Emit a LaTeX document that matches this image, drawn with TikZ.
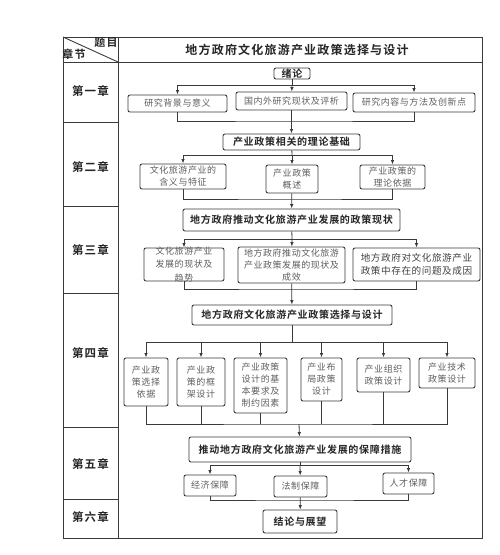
\documentclass[tikz,border=0pt]{standalone}
\usepackage{fontspec}
\usepackage{xcolor}
\usepackage{tikz}
\usetikzlibrary{arrows.meta,positioning,calc}
\setmainfont{Noto Sans CJK SC}
\newfontfamily\boxfont[LetterSpace=6]{Noto Sans CJK SC}
\newfontfamily\keyfont[LetterSpace=7]{Noto Sans CJK SC Bold}
\newfontfamily\headfont[LetterSpace=10]{Noto Sans CJK SC Bold}
\definecolor{linegray}{HTML}{3A3A3A}
\definecolor{textgray}{HTML}{5E5E5E}

\begin{document}
\begin{tikzpicture}[x = 1pt, y = -1pt,
  >={Latex[length=4.5pt,width=3.5pt]},
  tab/.style = {draw = linegray, line width = .9pt},
  box/.style = {draw = linegray, line width = .9pt, rounded corners = 2pt, inner sep = 0pt, align = center, text = textgray, font = \fontsize{9}{12}\boxfont},
  keybox/.style = {box, text = black!85, font = \fontsize{10}{12}\keyfont},
  chap/.style = {text = black!85, font = \fontsize{11.5}{13}\headfont},
  link/.style = {draw = linegray, line width = .8pt}]
\useasboundingbox (0,0) rectangle (500,555);

% table
\draw[tab] (63,37) rectangle (482,538);
\draw[tab] (118,37) -- (118,538);
\draw[tab] (63,62) -- (482,62);
\foreach \y in {122,206,293,427,499}
  \draw[tab] (63,\y) -- (118,\y);
\draw[tab] (63,37) -- (118,62);
\node[chap, font = \fontsize{11}{13}\headfont] (tm) at (106,43) {题目};
\node[chap, font = \fontsize{11}{13}\headfont] (zj) at (74,54) {章节};
\node[chap, font = \fontsize{12}{14}\headfont] (title) at (297,49.5) {地方政府文化旅游产业政策选择与设计};
\node[chap] (ch1) at (90.5,91) {第一章};
\node[chap] (ch2) at (90.5,167) {第二章};
\node[chap] (ch3) at (90.5,250) {第三章};
\node[chap] (ch4) at (90.5,353) {第四章};
\node[chap] (ch5) at (90.5,464) {第五章};
\node[chap] (ch6) at (90.5,517) {第六章};

% chapter one
\node[keybox, minimum width = 36pt, minimum height = 11pt] (xl) at (292,73.5) {绪论};
\node[box, minimum width = 99pt, minimum height = 17pt] (a1) at (177.5,103.5) {研究背景与意义};
\node[box, minimum width = 111pt, minimum height = 18pt] (a2) at (291.5,101) {国内外研究现状及评析};
\node[box, minimum width = 122pt, minimum height = 19pt] (a3) at (414,102.5) {研究内容与方法及创新点};
\coordinate (j1) at (292,85);
\coordinate (m1) at (292,121);
\draw[link] (xl) -- (j1);
\draw[link, ->] (j1) -| (a1);
\draw[link, ->] (j1) -- (a2);
\draw[link, ->] (j1) -| (a3);
\draw[link] (a1) |- (m1) -| (a3);

% chapter two
\node[keybox, minimum width = 137pt, minimum height = 16pt] (b0) at (291.5,142) {产业政策相关的理论基础};
\node[box, minimum width = 86pt, minimum height = 25pt] (b1) at (183,176.5) {文化旅游产业的\\含义与特征};
\node[box, minimum width = 52pt, minimum height = 28pt] (b2) at (292,179) {产业政策\\概述};
\node[box, minimum width = 65pt, minimum height = 24pt] (b3) at (392.5,177) {产业政策的\\理论依据};
\draw[link, ->] (a2) -- (b0);
\coordinate (j2) at (292,155);
\coordinate (m2) at (292,199);
\draw[link] (b0) -- (j2);
\draw[link, ->] (j2) -| (b1);
\draw[link, ->] (j2) -- (b2);
\draw[link, ->] (j2) -| (b3);
\draw[link] (b1) |- (m2) -| (b3);

% chapter three
\node[keybox, minimum width = 217pt, minimum height = 22pt] (c0) at (291.5,220) {地方政府推动文化旅游产业发展的政策现状};
\node[box, minimum width = 80pt, minimum height = 33pt, inner ysep = -4pt, font = \fontsize{9}{13.5}\boxfont] (c1) at (184,264.5) {文化旅游产业\\发展的现状及\\趋势};
\node[box, minimum width = 107pt, minimum height = 36pt] (c2) at (291.5,265) {地方政府推动文化旅游\\产业政策发展的现状及\\成效};
\node[box, minimum width = 127pt, minimum height = 33pt, text = black!75, font = \fontsize{9.6}{13}\boxfont] (c3) at (416.5,264.5) {地方政府对文化旅游产业\\政策中存在的问题及成因};
\draw[link, ->] (b2) -- (c0);
\coordinate (j3) at (292,239);
\coordinate (m3) at (292,289);
\draw[link] (c0) -- (j3);
\draw[link, ->] (j3) -| (c1);
\draw[link, ->] (j3) -- (c2);
\draw[link, ->] (j3) -| (c3);
\draw[link] (c1) |- (m3) -| (c3);

% chapter four
\node[keybox, minimum width = 200pt, minimum height = 20pt] (d0) at (292,315) {地方政府文化旅游产业政策选择与设计};
\node[box, minimum width = 44pt, minimum height = 48pt] (d1) at (146,382) {产业政\\策选择\\依据};
\node[box, minimum width = 48pt, minimum height = 48pt] (d2) at (201,382) {产业政\\策的框\\架设计};
\node[box, minimum width = 53pt, minimum height = 55pt] (d3) at (260.5,385.5) {产业政策\\设计的基\\本要求及\\制约因素};
\node[box, minimum width = 41pt, minimum height = 43pt] (d4) at (321.5,379.5) {产业布\\局政策\\设计};
\node[box, minimum width = 53pt, minimum height = 34pt] (d5) at (383.5,375) {产业组织\\政策设计};
\node[box, minimum width = 56pt, minimum height = 30pt] (d6) at (447,373) {产业技术\\政策设计};
\draw[link, ->] (c2) -- (d0);
\coordinate (j4) at (292,342);
\coordinate (m4) at (299,424);
\draw[link] (d0) -- (j4);
\foreach \n in {d1,d2,d3,d4,d5,d6}
  \draw[link, ->] (j4) -| (\n);
\draw[link] (d1) |- (m4) -| (d6);
\foreach \n in {d2,d3,d4,d5}
  \draw[link] (\n) -- (\n |- m4);

% chapter five
\node[keybox, minimum width = 222pt, minimum height = 25pt] (e0) at (300,449.5) {推动地方政府文化旅游产业发展的保障措施};
\node[box, minimum width = 52pt, minimum height = 21pt] (e1) at (210,485.5) {经济保障};
\node[box, minimum width = 53pt, minimum height = 21pt] (e2) at (300.5,486.5) {法制保障};
\node[box, minimum width = 51pt, minimum height = 21pt] (e3) at (408.5,483.5) {人才保障};
\draw[link, ->] (m4) -- (e0);
\coordinate (j5) at (300,465);
\coordinate (m5) at (300,500);
\draw[link] (e0) -- (j5);
\draw[link, ->] (j5) -| (e1);
\draw[link, ->] (j5) -- (e2);
\draw[link, ->] (j5) -| (e3);
\draw[link] (e1) |- (m5) -| (e3);

% chapter six
\node[keybox, minimum width = 74pt, minimum height = 23pt] (f0) at (300,521.5) {结论与展望};
\draw[link, ->] (e2) -- (f0);
\end{tikzpicture}
\end{document}
